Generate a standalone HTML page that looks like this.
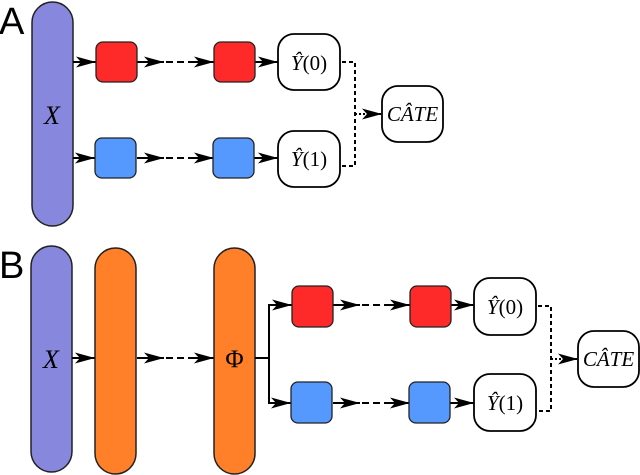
<!DOCTYPE html>
<html><head><meta charset="utf-8"><style>
html,body{margin:0;padding:0;background:#fff}
svg{display:block}
text{font-family:"Liberation Serif",serif;font-style:italic}
</style></head><body>
<svg width="640" height="475" viewBox="0 0 640 475" xmlns="http://www.w3.org/2000/svg">
<defs>
<marker id="ah" markerUnits="userSpaceOnUse" markerWidth="22" markerHeight="14" refX="20" refY="7" orient="auto">
<path d="M0,1.5 L20,7 L0,12.5 L5,7 z" fill="#000"/>
</marker>
<g id="row">
  <line x1="137" y1="0" x2="164" y2="0" stroke="#000" stroke-width="2" marker-end="url(#ah)"/>
  <line x1="166" y1="0" x2="196" y2="0" stroke="#000" stroke-width="2" stroke-dasharray="7,4"/>
  <line x1="192" y1="0" x2="214" y2="0" stroke="#000" stroke-width="2" marker-end="url(#ah)"/>
</g>
</defs>
<text x="-1" y="34" font-size="38" style="font-family:'Liberation Sans',sans-serif;font-style:normal">A</text>
<text x="-1" y="278" font-size="38" style="font-family:'Liberation Sans',sans-serif;font-style:normal">B</text>

<!-- Panel A -->
<rect x="32" y="2" width="41" height="224" rx="20.5" fill="#8787dd" stroke="#222" stroke-width="1.5"/>
<text x="52" y="124" font-size="26" text-anchor="middle">X</text>
<line x1="73" y1="62" x2="96" y2="62" stroke="#000" stroke-width="2" marker-end="url(#ah)"/>
<line x1="73" y1="158" x2="95" y2="158" stroke="#000" stroke-width="2" marker-end="url(#ah)"/>
<use href="#row" y="62"/>
<use href="#row" y="158"/>
<line x1="255" y1="62" x2="278" y2="62" stroke="#000" stroke-width="2" marker-end="url(#ah)"/>
<line x1="254" y1="158" x2="278" y2="158" stroke="#000" stroke-width="2" marker-end="url(#ah)"/>
<rect x="96" y="42" width="41" height="40" rx="7" fill="#fe2a2a" stroke="#222" stroke-width="1.3"/>
<rect x="214" y="42" width="41" height="40" rx="7" fill="#fe2a2a" stroke="#222" stroke-width="1.3"/>
<rect x="95" y="138" width="41" height="40" rx="7" fill="#5599ff" stroke="#222" stroke-width="1.3"/>
<rect x="213" y="138" width="41" height="40" rx="7" fill="#5599ff" stroke="#222" stroke-width="1.3"/>
<rect x="278" y="34" width="62" height="56" rx="16" fill="#fff" stroke="#000" stroke-width="1.8"/>
<rect x="278" y="131" width="62" height="56" rx="16" fill="#fff" stroke="#000" stroke-width="1.8"/>
<text x="309" y="70" font-size="21" text-anchor="middle">Ŷ<tspan font-style="normal">(0)</tspan></text>
<text x="309" y="166" font-size="21" text-anchor="middle">Ŷ<tspan font-style="normal">(1)</tspan></text>
<path d="M342,62 H355 V166 H342" fill="none" stroke="#000" stroke-width="2" stroke-dasharray="4,3"/>
<line x1="355" y1="114" x2="382" y2="114" stroke="#000" stroke-width="2" stroke-dasharray="2,2" marker-end="url(#ah)"/>
<rect x="382" y="86" width="61" height="56" rx="16" fill="#fff" stroke="#000" stroke-width="1.8"/>
<text x="412.5" y="121" font-size="21" text-anchor="middle">CÂTE</text>

<!-- Panel B -->
<rect x="31" y="246" width="41" height="226" rx="20.5" fill="#8787dd" stroke="#222" stroke-width="1.5"/>
<text x="51" y="368" font-size="26" text-anchor="middle">X</text>
<line x1="72" y1="358" x2="95" y2="358" stroke="#000" stroke-width="2" marker-end="url(#ah)"/>
<rect x="95" y="248" width="41" height="226" rx="20.5" fill="#ff8028" stroke="#222" stroke-width="1.5"/>
<use href="#row" y="358"/>
<rect x="214" y="248" width="41" height="226" rx="20.5" fill="#ff8028" stroke="#222" stroke-width="1.5"/>
<text x="234.5" y="367" font-size="25" text-anchor="middle" style="font-style:normal">Φ</text>
<path d="M255,358 H269 V305 H285 M269,358 V403 H285" fill="none" stroke="#000" stroke-width="2"/>
<line x1="272" y1="305" x2="292" y2="305" stroke="#000" stroke-width="2" marker-end="url(#ah)"/>
<line x1="272" y1="403" x2="291" y2="403" stroke="#000" stroke-width="2" marker-end="url(#ah)"/>
<g transform="translate(196,0)">
<use href="#row" y="305"/>
<use href="#row" y="403"/>
</g>
<line x1="451" y1="305" x2="474" y2="305" stroke="#000" stroke-width="2" marker-end="url(#ah)"/>
<line x1="450" y1="403" x2="474" y2="403" stroke="#000" stroke-width="2" marker-end="url(#ah)"/>
<rect x="292" y="286" width="41" height="41" rx="7" fill="#fe2a2a" stroke="#222" stroke-width="1.3"/>
<rect x="410" y="286" width="41" height="41" rx="7" fill="#fe2a2a" stroke="#222" stroke-width="1.3"/>
<rect x="291" y="382" width="41" height="41" rx="7" fill="#5599ff" stroke="#222" stroke-width="1.3"/>
<rect x="409" y="382" width="41" height="41" rx="7" fill="#5599ff" stroke="#222" stroke-width="1.3"/>
<rect x="474" y="278" width="62" height="57" rx="16" fill="#fff" stroke="#000" stroke-width="1.8"/>
<rect x="474" y="374" width="62" height="57" rx="16" fill="#fff" stroke="#000" stroke-width="1.8"/>
<text x="505" y="314" font-size="21" text-anchor="middle">Ŷ<tspan font-style="normal">(0)</tspan></text>
<text x="505" y="410" font-size="21" text-anchor="middle">Ŷ<tspan font-style="normal">(1)</tspan></text>
<path d="M538,306 H551 V411 H538" fill="none" stroke="#000" stroke-width="2" stroke-dasharray="4,3"/>
<line x1="551" y1="359" x2="578" y2="359" stroke="#000" stroke-width="2" stroke-dasharray="2,2" marker-end="url(#ah)"/>
<rect x="578" y="331" width="61" height="56" rx="16" fill="#fff" stroke="#000" stroke-width="1.8"/>
<text x="608.5" y="366" font-size="21" text-anchor="middle">CÂTE</text>
</svg>
</body></html>
